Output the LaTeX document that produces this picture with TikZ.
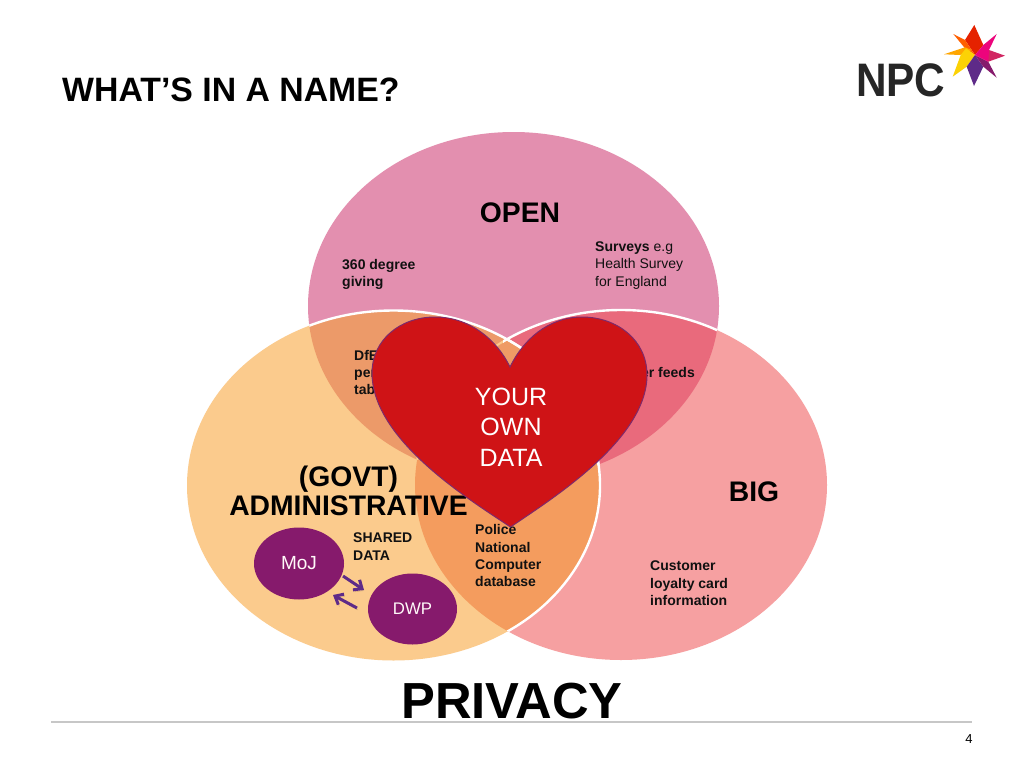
\documentclass[tikz,border=0pt]{standalone}
\usepackage{fontspec}
\setmainfont{Liberation Sans}
\usetikzlibrary{arrows.meta,shapes.geometric}
\definecolor{cTop}{HTML}{E38FAF}
\definecolor{cLeft}{HTML}{FBCB8D}
\definecolor{cRight}{HTML}{F6A0A1}
\definecolor{cTL}{HTML}{EC9A69}
\definecolor{cTR}{HTML}{E96A7C}
\definecolor{cLR}{HTML}{F49C5E}
\definecolor{cHeart}{HTML}{CF1316}
\definecolor{cHeartLine}{HTML}{7E2A6C}
\definecolor{cOrg}{HTML}{861A6C}
\definecolor{cArrow}{HTML}{5E2A88}
\definecolor{cInk}{HTML}{111111}
\tikzset{
  label/.style={inner sep=0pt,anchor=north west,align=left,text=cInk,font=\fontsize{14}{17.3}\selectfont},
  head/.style={inner sep=0pt,text=black,font=\fontsize{28.3}{29}\selectfont\bfseries,align=center},
  org/.style={ellipse,fill=cOrg,inner sep=0pt,text=white!90!pink},
  flow/.style={draw=cArrow,line width=3pt,-{Straight Barb[length=7pt,width=12pt,line width=3pt]},
    preaction={draw=black,draw opacity=.18,transform canvas={shift={(1pt,-2pt)}}}}
}
\def\topE{(513.5,306) ellipse [x radius=205.5,y radius=174]}
\def\leftE{(393.5,485.5) ellipse [x radius=206.5,y radius=175]}
\def\rightE{(621,485) ellipse [x radius=206,y radius=175]}
\begin{document}
\begin{tikzpicture}[x=1pt,y=-1pt]
\useasboundingbox (0,0) rectangle (1024,768);
\fill[white] (0,0) rectangle (1024,768);
% venn fills
\fill[cTop] \topE;
\fill[cRight] \rightE;
\fill[cLeft] \leftE;
\begin{scope}\clip \topE; \fill[cTL] \leftE; \fill[cTR] \rightE; \end{scope}
\begin{scope}\clip \leftE; \fill[cLR] \rightE; \end{scope}
\begin{scope}\clip \topE; \clip \leftE; \fill[cTL!60!cLR] \rightE; \draw[cLeft,line width=2pt] \rightE; \end{scope}
% white edges, only where the circles overlap
\begin{scope}\clip \topE; \draw[white,line width=2.4pt] \leftE; \end{scope}
\begin{scope}\clip \rightE; \draw[white,line width=2.4pt] \leftE; \end{scope}
\begin{scope}
\clip (503,250) rectangle (1024,480);
\clip \topE;
\draw[white,line width=2.4pt] \rightE;
\end{scope}
% texts
\node[head] (open) at (520,213) {OPEN};
\node[head] (big) at (754,492) {BIG};
\node[head] (admin) at (348.5,490.5) {(GOVT)\\ADMINISTRATIVE};
\node[label] (t360) at (342,259) {\bfseries 360 degree\\\bfseries giving};
\node[label] (surveys) at (595,241.5) {\textbf{Surveys} e.g\\Health Survey\\for England};
\node[label] (dfe) at (354,350) {\bfseries DfE\\\bfseries per\\\bfseries tab};
\node[label,anchor=north east] (feeds) at (695,367) {\bfseries er feeds};
\node[label] (police) at (475,524.5) {\bfseries Police\\\bfseries National\\\bfseries Computer\\\bfseries database};
\node[label] (loyal) at (650,561) {\bfseries Customer\\\bfseries loyalty card\\\bfseries information};
\node[label] (shared) at (353,533) {\bfseries SHARED\\\bfseries DATA};
% heart
\draw[fill=cHeart,draw=cHeartLine,line width=1pt] (510.5,527)
  .. controls (470,500) and (372,440) .. (372,373)
  .. controls (372,340) and (400,317) .. (435,317)
  .. controls (470,317) and (497,340) .. (510,367)
  .. controls (523,340) and (548,317) .. (582,317)
  .. controls (617,317) and (647,340) .. (647,375)
  .. controls (647,440) and (550,500) .. (510.5,527) -- cycle;
\node[inner sep=0pt,align=center,text=white,font=\fontsize{25}{30.5}\selectfont] (own) at (511,427) {YOUR\\OWN\\DATA};
% organisations
\node[org,minimum width=90pt,minimum height=72pt,font=\fontsize{19}{22}\selectfont] (moj) at (299,563.5) {MoJ};
\node[org,minimum width=89pt,minimum height=71pt,font=\fontsize{16.8}{20}\selectfont] (dwp) at (412.5,609) {DWP};
\coordinate (mojout) at (343,576);
\coordinate (dwpin) at (364,590);
\coordinate (dwpout) at (357,608);
\coordinate (mojin) at (333,595);
\draw[flow] (mojout) -- (dwpin);
\draw[flow] (dwpout) -- (mojin);
% title, footer
\node[inner sep=0pt,anchor=west,font=\fontsize{33.8}{34}\selectfont\bfseries,text=black] (title) at (62,90) {WHAT’S IN A NAME?};
\node[inner sep=0pt,font=\fontsize{50.7}{51}\selectfont\bfseries,text=black] (privacy) at (512,701) {PRIVACY};
\coordinate (ruleL) at (51,722);
\coordinate (ruleR) at (972,722);
\draw[black!22,line width=1.6pt] (ruleL) -- (ruleR);
\node[inner sep=0pt,font=\fontsize{13}{13}\selectfont,text=black] (pageno) at (969,739) {4};
% logo
\node[inner sep=0pt,anchor=west,font=\fontsize{47}{47}\selectfont\bfseries,text=black!85,xscale=.9] (npc) at (856,80) {NPC};
\fill[red!70!orange!90!black] (974.3,25) -- (983.3,45) -- (975,55) -- (965,40) -- cycle;
\fill[orange!75!red] (953.3,34) -- (965,40) -- (975,55) -- (965,48.3) -- cycle;
\fill[orange!70!yellow] (944,54.3) -- (965,47.3) -- (971.7,50) -- (960,55) -- cycle;
\fill[yellow!70!orange] (952.7,76.7) -- (960.7,55) -- (966,48.3) -- (975,55) -- (966.7,66.7) -- cycle;
\fill[cArrow] (974,86) -- (966.7,66.7) -- (975,55) -- (983.3,66.7) -- cycle;
\fill[cOrg] (996.7,77.7) -- (983.3,66.7) -- (975,55) -- (988.3,61.7) -- cycle;
\fill[magenta!60!red!85!black] (1005,55.7) -- (988.3,61.7) -- (980,53.3) -- (989,50) -- cycle;
\fill[magenta!85!red] (996.7,34) -- (989,50) -- (988.3,61.7) -- (975,55) -- (983.3,45) -- cycle;
\end{tikzpicture}
\end{document}
